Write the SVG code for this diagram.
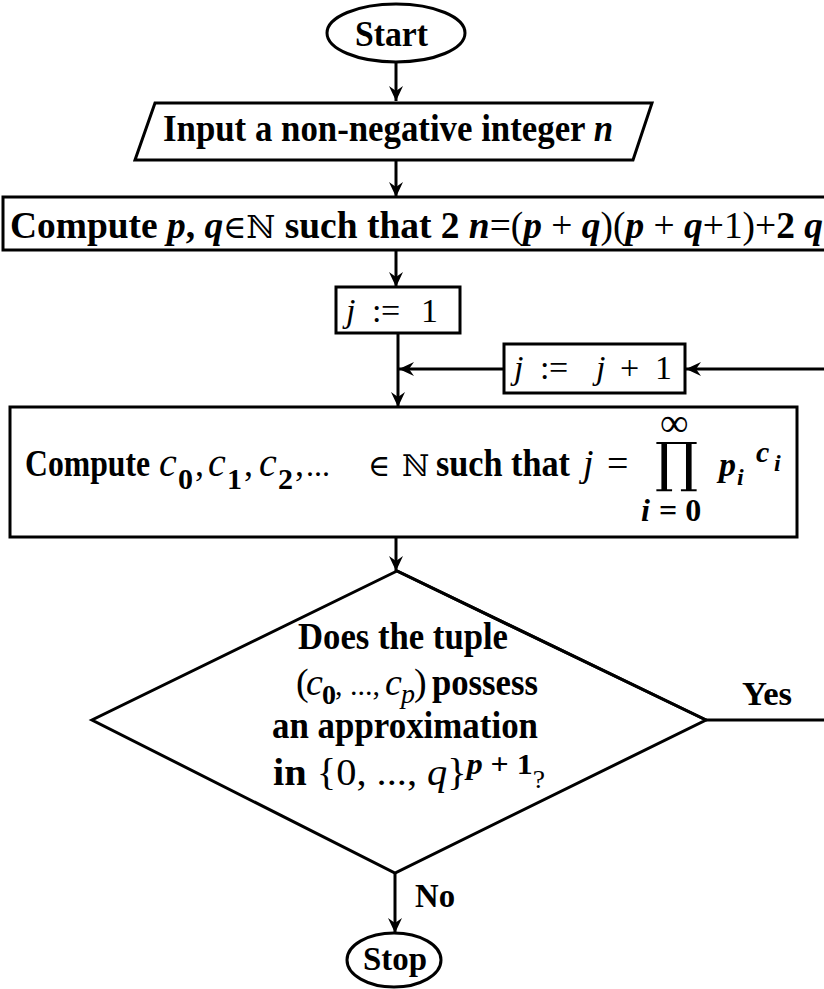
<svg xmlns="http://www.w3.org/2000/svg" width="824" height="989" viewBox="0 0 824 989">
<defs>
<marker id="ah" markerUnits="userSpaceOnUse" markerWidth="16" markerHeight="14" refX="15" refY="7" orient="auto">
<path d="M0,0 L15,7 L0,14 L5,7 z" fill="#000"/>
</marker>
<style>
.sh{fill:#fff;stroke:#000;stroke-width:3}
.ln{fill:none;stroke:#000;stroke-width:3}
text{font-family:"Liberation Serif",serif;fill:#000}
.b{font-weight:bold}
.bi{font-weight:bold;font-style:italic}
.m{font-style:italic;font-weight:normal}
.r{font-weight:normal;font-style:normal}
.s{font-family:"DejaVu Serif","DejaVu Sans",serif;font-weight:normal;font-style:normal}
</style>
</defs>
<rect width="824" height="989" fill="#fff"/>

<g id="connectors">
<line class="ln" x1="396" y1="62" x2="396" y2="101" marker-end="url(#ah)"/>
<line class="ln" x1="396" y1="160" x2="396" y2="197" marker-end="url(#ah)"/>
<line class="ln" x1="396" y1="250" x2="396" y2="287" marker-end="url(#ah)"/>
<line class="ln" x1="398" y1="333" x2="398" y2="407" marker-end="url(#ah)"/>
<line class="ln" x1="504" y1="369" x2="399" y2="369" marker-end="url(#ah)"/>
<line class="ln" x1="826" y1="369" x2="686" y2="369" marker-end="url(#ah)"/>
<line class="ln" x1="396" y1="537" x2="396" y2="571" marker-end="url(#ah)"/>
<line class="ln" x1="706" y1="720" x2="826" y2="720"/>
<line class="ln" x1="395" y1="873" x2="395" y2="933" marker-end="url(#ah)"/>
<text class="b" x="742" y="705" font-size="34" textLength="50" lengthAdjust="spacingAndGlyphs">Yes</text>
<text class="b" x="415" y="907" font-size="34" textLength="40" lengthAdjust="spacingAndGlyphs">No</text>
</g>

<g id="start">
<ellipse class="sh" cx="396" cy="33" rx="69" ry="29"/>
<text class="b" x="355" y="46" font-size="36" textLength="73" lengthAdjust="spacingAndGlyphs">Start</text>
</g>

<g id="input">
<polygon class="sh" points="155,103 652,103 633,160 135,160"/>
<text class="b" x="163" y="141" font-size="38" textLength="450" lengthAdjust="spacingAndGlyphs">Input a non-negative integer <tspan class="bi">n</tspan></text>
</g>

<g id="compute-pq">
<rect class="sh" x="3" y="197" width="840" height="53"/>
<text class="b" x="10" y="238" font-size="38" textLength="813" lengthAdjust="spacingAndGlyphs">Compute <tspan class="bi">p</tspan>, <tspan class="bi">q</tspan><tspan class="s" font-size="32">∈ℕ</tspan> such that 2 <tspan class="bi">n</tspan><tspan class="r">=(</tspan><tspan class="bi">p</tspan><tspan class="r"> + </tspan><tspan class="bi">q</tspan><tspan class="r">)(</tspan><tspan class="bi">p</tspan><tspan class="r"> + </tspan><tspan class="bi">q</tspan><tspan class="r">+1)+</tspan>2 <tspan class="bi">q</tspan></text>
</g>

<g id="j-init">
<rect class="sh" x="336" y="287" width="124" height="46"/>
<text class="m" x="346" y="322" font-size="34">j</text>
<text class="r" x="372" y="322" font-size="34">:</text>
<text class="r" x="381" y="322" font-size="34">=</text>
<text class="r" x="421" y="322" font-size="34">1</text>
</g>

<g id="j-inc">
<rect class="sh" x="504" y="344" width="181" height="49"/>
<text class="m" x="514" y="379" font-size="34">j</text>
<text class="r" x="540" y="379" font-size="34">:</text>
<text class="r" x="549" y="379" font-size="34">=</text>
<text class="m" x="596" y="379" font-size="34">j</text>
<text class="r" x="620" y="379" font-size="34">+</text>
<text class="r" x="655" y="379" font-size="34">1</text>
</g>

<g id="compute-c">
<rect class="sh" x="10" y="407" width="787" height="130"/>
<text class="b" x="25" y="476" font-size="38" textLength="125" lengthAdjust="spacingAndGlyphs">Compute</text>
<text class="m" x="159" y="476" font-size="40">c</text>
<text class="b" x="178" y="489" font-size="30">0</text>
<text class="r" x="195" y="476" font-size="36">,</text>
<text class="m" x="208" y="476" font-size="40">c</text>
<text class="b" x="227" y="489" font-size="30">1</text>
<text class="r" x="244" y="476" font-size="36">,</text>
<text class="m" x="259" y="476" font-size="40">c</text>
<text class="b" x="278" y="489" font-size="30">2</text>
<text class="r" x="295" y="476" font-size="36">,</text>
<text class="r" x="306" y="476" font-size="32">...</text>
<text class="s" x="368" y="476" font-size="30">∈</text>
<text class="s" x="402" y="476" font-size="30">ℕ</text>
<text class="b" x="436" y="476" font-size="38" textLength="134" lengthAdjust="spacingAndGlyphs">such that</text>
<text class="m" x="583" y="476" font-size="38">j</text>
<text class="r" x="607" y="476" font-size="38">=</text>
<text class="s" x="655" y="481" font-size="54">∏</text>
<text class="r" x="660" y="436" font-size="40">∞</text>
<text class="bi" x="641" y="521" font-size="32">i</text>
<text class="b" x="659" y="521" font-size="32">= 0</text>
<text class="bi" x="719" y="476" font-size="34">p</text>
<text class="bi" x="737" y="485" font-size="24">i</text>
<text class="bi" x="756" y="462" font-size="30">c</text>
<text class="bi" x="774" y="471" font-size="24">i</text>
</g>

<g id="decision">
<path d="M397,571 L92,720 L395,873 L706,720 Z" class="sh"/>
<path d="M397,571 L706,720" class="ln" stroke-width="4"/>
<text class="b" x="298" y="649" font-size="38" textLength="210" lengthAdjust="spacingAndGlyphs">Does the tuple</text>
<text class="r" x="296" y="695" font-size="38">(</text>
<text class="m" x="306" y="695" font-size="38">c</text>
<text class="b" x="322" y="704" font-size="28">0</text>
<text class="r" x="335" y="695" font-size="30">, ...,</text>
<text class="m" x="385" y="695" font-size="38">c</text>
<text class="m" x="401" y="703" font-size="28">p</text>
<text class="r" x="414" y="695" font-size="38">)</text>
<text class="b" x="432" y="695" font-size="38" textLength="106" lengthAdjust="spacingAndGlyphs">possess</text>
<text class="b" x="272" y="738" font-size="38" textLength="266" lengthAdjust="spacingAndGlyphs">an  approximation</text>
<text class="b" x="273" y="785" font-size="38" textLength="272" lengthAdjust="spacingAndGlyphs">in <tspan class="r">{0, ..., </tspan><tspan class="m">q</tspan><tspan class="r">}</tspan><tspan class="bi" font-size="30" dy="-11">p</tspan><tspan font-size="30"> + 1</tspan><tspan class="r" font-size="26" dy="14">?</tspan></text>
</g>

<g id="stop">
<ellipse class="sh" cx="394" cy="960" rx="47" ry="27"/>
<text class="b" x="363" y="970" font-size="34" textLength="64" lengthAdjust="spacingAndGlyphs">Stop</text>
</g>
</svg>
